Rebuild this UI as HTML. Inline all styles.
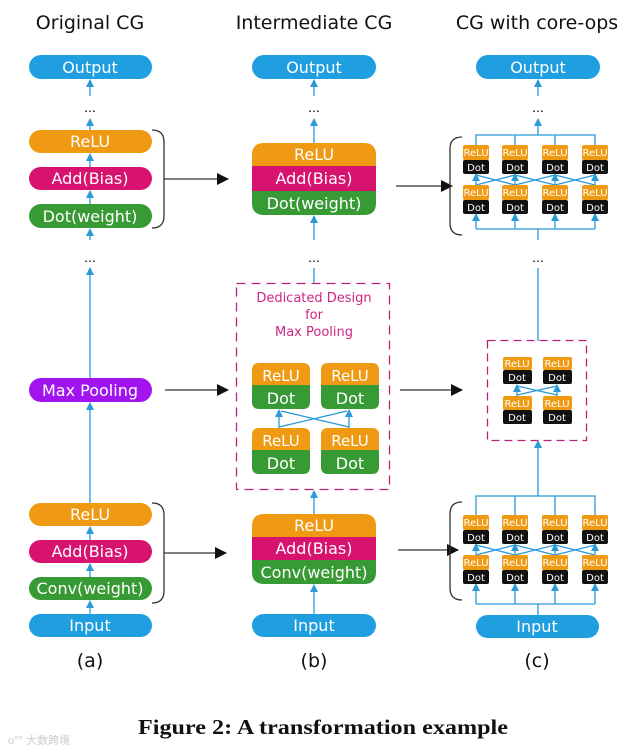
<!DOCTYPE html>
<html><head><meta charset="utf-8"><style>
html,body{margin:0;padding:0;background:#fff}
svg{display:block}
.t{font-family:"DejaVu Sans","Liberation Sans",sans-serif;fill:#fff;text-anchor:middle}
.h{font-family:"DejaVu Sans","Liberation Sans",sans-serif;fill:#111;text-anchor:middle;font-size:19px}
.s{font-family:"DejaVu Sans","Liberation Sans",sans-serif;fill:#fff;text-anchor:middle;font-size:10px}
.ln{stroke:#2a9ad8;stroke-width:1.3;fill:none}
</style></head><body>
<svg width="639" height="752" viewBox="0 0 639 752" xmlns="http://www.w3.org/2000/svg">
<defs>
<marker id="ba" markerWidth="8" markerHeight="8" refX="7" refY="4" orient="auto" markerUnits="userSpaceOnUse"><path d="M0,0 L8,4 L0,8 Z" fill="#2a9ad8"/></marker>
<marker id="ka" markerWidth="12" markerHeight="12" refX="11" refY="6" orient="auto" markerUnits="userSpaceOnUse"><path d="M0,0 L12,6 L0,12 Z" fill="#111"/></marker>
</defs>
<text class="h" x="90" y="29">Original CG</text>
<text class="h" x="314" y="29">Intermediate CG</text>
<text class="h" x="537" y="29">CG with core-ops</text>

<g>
<line class="ln" x1="90" y1="614" x2="90" y2="601" marker-end="url(#ba)"/>
<line class="ln" x1="90" y1="577" x2="90" y2="564" marker-end="url(#ba)"/>
<line class="ln" x1="90" y1="540" x2="90" y2="527" marker-end="url(#ba)"/>
<line class="ln" x1="90" y1="503" x2="90" y2="403" marker-end="url(#ba)"/>
<line class="ln" x1="90" y1="378" x2="90" y2="268" marker-end="url(#ba)"/>
<line class="ln" x1="90" y1="240" x2="90" y2="229" marker-end="url(#ba)"/>
<line class="ln" x1="90" y1="204" x2="90" y2="191" marker-end="url(#ba)"/>
<line class="ln" x1="90" y1="167" x2="90" y2="154" marker-end="url(#ba)"/>
<line class="ln" x1="90" y1="130" x2="90" y2="119" marker-end="url(#ba)"/>
<line class="ln" x1="90" y1="96" x2="90" y2="80" marker-end="url(#ba)"/>
<text x="90" y="112" text-anchor="middle" font-size="14" font-family="Liberation Sans">...</text>
<text x="90" y="262" text-anchor="middle" font-size="14" font-family="Liberation Sans">...</text>
<rect x="29" y="55" width="123" height="24" rx="12" fill="#1f9fe0"/><text class="t" x="90" y="73" font-size="16">Output</text>
<rect x="29" y="130" width="123" height="23" rx="11.5" fill="#ef9a12"/><text class="t" x="90" y="147" font-size="16">ReLU</text>
<rect x="29" y="167" width="123" height="23" rx="11.5" fill="#d8136f"/><text class="t" x="90" y="184" font-size="16">Add(Bias)</text>
<rect x="29" y="204" width="123" height="24" rx="12" fill="#389a35"/><text class="t" x="90" y="222" font-size="16">Dot(weight)</text>
<rect x="29" y="378" width="123" height="24" rx="12" fill="#a114f0"/><text class="t" x="90" y="396" font-size="16">Max Pooling</text>
<rect x="29" y="503" width="123" height="23" rx="11.5" fill="#ef9a12"/><text class="t" x="90" y="520" font-size="16">ReLU</text>
<rect x="29" y="540" width="123" height="23" rx="11.5" fill="#d8136f"/><text class="t" x="90" y="557" font-size="16">Add(Bias)</text>
<rect x="29" y="577" width="123" height="23" rx="11.5" fill="#389a35"/><text class="t" x="90" y="594" font-size="16">Conv(weight)</text>
<rect x="29" y="614" width="123" height="23" rx="11.5" fill="#1f9fe0"/><text class="t" x="90" y="631" font-size="16">Input</text>
<path d="M152,130 Q164,130 164,142 L164,216 Q164,228 152,228" stroke="#333" stroke-width="1.3" fill="none"/>
<path d="M152,503 Q164,503 164,515 L164,591 Q164,603 152,603" stroke="#333" stroke-width="1.3" fill="none"/>
<text class="h" x="90" y="667" font-size="18">(a)</text>
</g>

<g stroke="#333" stroke-width="1.3">
<line x1="164" y1="179" x2="228" y2="179" marker-end="url(#ka)"/>
<line x1="165" y1="390" x2="228" y2="390" marker-end="url(#ka)"/>
<line x1="164" y1="553" x2="226" y2="553" marker-end="url(#ka)"/>
<line x1="396" y1="186" x2="452" y2="186" marker-end="url(#ka)"/>
<line x1="400" y1="390" x2="462" y2="390" marker-end="url(#ka)"/>
<line x1="398" y1="550" x2="458" y2="550" marker-end="url(#ka)"/>
</g>

<g>
<line class="ln" x1="314" y1="614" x2="314" y2="585" marker-end="url(#ba)"/>
<line class="ln" x1="314" y1="514" x2="314" y2="491" marker-end="url(#ba)"/>
<line class="ln" x1="314" y1="283" x2="314" y2="268"/>
<line class="ln" x1="314" y1="240" x2="314" y2="216" marker-end="url(#ba)"/>
<line class="ln" x1="314" y1="143" x2="314" y2="119" marker-end="url(#ba)"/>
<line class="ln" x1="314" y1="96" x2="314" y2="80" marker-end="url(#ba)"/>
<text x="314" y="112" text-anchor="middle" font-size="14" font-family="Liberation Sans">...</text>
<text x="314" y="262" text-anchor="middle" font-size="14" font-family="Liberation Sans">...</text>
<rect x="252" y="55" width="124" height="24" rx="12" fill="#1f9fe0"/><text class="t" x="314" y="73" font-size="16">Output</text>
<path d="M252,155 Q252,143 264,143 L364,143 Q376,143 376,155 L376,166 L252,166 Z" fill="#ef9a12"/>
<rect x="252" y="166" width="124" height="25" fill="#d8136f"/>
<path d="M252,191 L376,191 L376,203 Q376,215 364,215 L264,215 Q252,215 252,203 Z" fill="#389a35"/>
<text class="t" x="314" y="160" font-size="16">ReLU</text>
<text class="t" x="314" y="184" font-size="16">Add(Bias)</text>
<text class="t" x="314" y="209" font-size="16">Dot(weight)</text>
<path d="M252,526 Q252,514 264,514 L364,514 Q376,514 376,526 L376,537 L252,537 Z" fill="#ef9a12"/>
<rect x="252" y="537" width="124" height="23" fill="#d8136f"/>
<path d="M252,560 L376,560 L376,572 Q376,584 364,584 L264,584 Q252,584 252,572 Z" fill="#389a35"/>
<text class="t" x="314" y="531" font-size="16">ReLU</text>
<text class="t" x="314" y="554" font-size="16">Add(Bias)</text>
<text class="t" x="314" y="578" font-size="16">Conv(weight)</text>
<rect x="252" y="614" width="124" height="23" rx="11.5" fill="#1f9fe0"/><text class="t" x="314" y="631" font-size="16">Input</text>
<rect x="236.5" y="283.5" width="153" height="206" fill="none" stroke="#c0207a" stroke-width="1.3" stroke-dasharray="9,6"/>
<g font-family="DejaVu Sans,Liberation Sans,sans-serif" font-size="13" fill="#d02585" text-anchor="middle">
<text x="314" y="302">Dedicated Design</text><text x="314" y="319">for</text><text x="314" y="336">Max Pooling</text></g>
<g>
<path d="M252,370 Q252,363 259,363 L303,363 Q310,363 310,370 L310,385 L252,385 Z" fill="#ef9a12"/>
<path d="M252,385 L310,385 L310,402 Q310,409 303,409 L259,409 Q252,409 252,402 Z" fill="#389a35"/>
<path d="M321,370 Q321,363 328,363 L372,363 Q379,363 379,370 L379,385 L321,385 Z" fill="#ef9a12"/>
<path d="M321,385 L379,385 L379,402 Q379,409 372,409 L328,409 Q321,409 321,402 Z" fill="#389a35"/>
<path d="M252,435 Q252,428 259,428 L303,428 Q310,428 310,435 L310,450 L252,450 Z" fill="#ef9a12"/>
<path d="M252,450 L310,450 L310,467 Q310,474 303,474 L259,474 Q252,474 252,467 Z" fill="#389a35"/>
<path d="M321,435 Q321,428 328,428 L372,428 Q379,428 379,435 L379,450 L321,450 Z" fill="#ef9a12"/>
<path d="M321,450 L379,450 L379,467 Q379,474 372,474 L328,474 Q321,474 321,467 Z" fill="#389a35"/>
<text class="t" x="281" y="381" font-size="15">ReLU</text><text class="t" x="281" y="404" font-size="16">Dot</text>
<text class="t" x="350" y="381" font-size="15">ReLU</text><text class="t" x="350" y="404" font-size="16">Dot</text>
<text class="t" x="281" y="446" font-size="15">ReLU</text><text class="t" x="281" y="469" font-size="16">Dot</text>
<text class="t" x="350" y="446" font-size="15">ReLU</text><text class="t" x="350" y="469" font-size="16">Dot</text>
<line class="ln" x1="279" y1="428" x2="279" y2="410" marker-end="url(#ba)"/>
<line class="ln" x1="349" y1="428" x2="349" y2="410" marker-end="url(#ba)"/>
<line class="ln" x1="279" y1="427" x2="347" y2="411"/>
<line class="ln" x1="349" y1="427" x2="281" y2="411"/>
</g>
<text class="h" x="314" y="667" font-size="18">(b)</text>
</g>

<g>
<rect x="476" y="55" width="124" height="24" rx="12" fill="#1f9fe0"/><text class="t" x="538" y="73" font-size="16">Output</text>
<line class="ln" x1="538" y1="96" x2="538" y2="80" marker-end="url(#ba)"/>
<text x="538" y="112" text-anchor="middle" font-size="14" font-family="Liberation Sans">...</text>
<text x="538" y="262" text-anchor="middle" font-size="14" font-family="Liberation Sans">...</text>
<line class="ln" x1="538" y1="135" x2="538" y2="119" marker-end="url(#ba)"/>
<path class="ln" d="M476,145 V135 H595 V145 M515,135 V145 M555,135 V145"/>
<path class="ln" d="M476,229 H595 M538,229 V240"/>
<line class="ln" x1="476" y1="229" x2="476" y2="214" marker-end="url(#ba)"/>
<line class="ln" x1="515" y1="229" x2="515" y2="214" marker-end="url(#ba)"/>
<line class="ln" x1="555" y1="229" x2="555" y2="214" marker-end="url(#ba)"/>
<line class="ln" x1="595" y1="229" x2="595" y2="214" marker-end="url(#ba)"/>
<line class="ln" x1="476" y1="185" x2="476" y2="174" marker-end="url(#ba)"/>
<line class="ln" x1="515" y1="185" x2="515" y2="174" marker-end="url(#ba)"/>
<line class="ln" x1="555" y1="185" x2="555" y2="174" marker-end="url(#ba)"/>
<line class="ln" x1="595" y1="185" x2="595" y2="174" marker-end="url(#ba)"/>
<path class="ln" d="M476,185 L515,175 M515,185 L476,175 M515,185 L555,175 M555,185 L515,175 M555,185 L595,175 M595,185 L555,175"/>
<path d="M462,137 Q450,137 450,149 L450,223 Q450,235 462,235" stroke="#333" stroke-width="1.3" fill="none"/>
<g>
<rect x="463" y="145" width="26" height="15" rx="2" fill="#ef9a12"/><rect x="463" y="160" width="26" height="14" rx="2" fill="#111"/>
<rect x="502" y="145" width="26" height="15" rx="2" fill="#ef9a12"/><rect x="502" y="160" width="26" height="14" rx="2" fill="#111"/>
<rect x="542" y="145" width="26" height="15" rx="2" fill="#ef9a12"/><rect x="542" y="160" width="26" height="14" rx="2" fill="#111"/>
<rect x="582" y="145" width="26" height="15" rx="2" fill="#ef9a12"/><rect x="582" y="160" width="26" height="14" rx="2" fill="#111"/>
<rect x="463" y="185" width="26" height="15" rx="2" fill="#ef9a12"/><rect x="463" y="200" width="26" height="14" rx="2" fill="#111"/>
<rect x="502" y="185" width="26" height="15" rx="2" fill="#ef9a12"/><rect x="502" y="200" width="26" height="14" rx="2" fill="#111"/>
<rect x="542" y="185" width="26" height="15" rx="2" fill="#ef9a12"/><rect x="542" y="200" width="26" height="14" rx="2" fill="#111"/>
<rect x="582" y="185" width="26" height="15" rx="2" fill="#ef9a12"/><rect x="582" y="200" width="26" height="14" rx="2" fill="#111"/>
<text class="s" x="476" y="156">ReLU</text><text class="s" x="476" y="171" font-size="11">Dot</text>
<text class="s" x="515" y="156">ReLU</text><text class="s" x="515" y="171" font-size="11">Dot</text>
<text class="s" x="555" y="156">ReLU</text><text class="s" x="555" y="171" font-size="11">Dot</text>
<text class="s" x="595" y="156">ReLU</text><text class="s" x="595" y="171" font-size="11">Dot</text>
<text class="s" x="476" y="196">ReLU</text><text class="s" x="476" y="211" font-size="11">Dot</text>
<text class="s" x="515" y="196">ReLU</text><text class="s" x="515" y="211" font-size="11">Dot</text>
<text class="s" x="555" y="196">ReLU</text><text class="s" x="555" y="211" font-size="11">Dot</text>
<text class="s" x="595" y="196">ReLU</text><text class="s" x="595" y="211" font-size="11">Dot</text>
</g>
<line class="ln" x1="538" y1="341" x2="538" y2="268"/>
<line class="ln" x1="538" y1="496" x2="538" y2="441" marker-end="url(#ba)"/>
<rect x="487.5" y="340.5" width="99" height="100" fill="none" stroke="#c0207a" stroke-width="1.3" stroke-dasharray="8,5"/>
<rect x="503" y="357" width="29" height="13" rx="2" fill="#ef9a12"/><rect x="503" y="370" width="29" height="14" rx="2" fill="#111"/>
<rect x="543" y="357" width="29" height="13" rx="2" fill="#ef9a12"/><rect x="543" y="370" width="29" height="14" rx="2" fill="#111"/>
<rect x="503" y="396" width="29" height="14" rx="2" fill="#ef9a12"/><rect x="503" y="410" width="29" height="14" rx="2" fill="#111"/>
<rect x="543" y="396" width="29" height="14" rx="2" fill="#ef9a12"/><rect x="543" y="410" width="29" height="14" rx="2" fill="#111"/>
<text class="s" x="517" y="367">ReLU</text><text class="s" x="517" y="381" font-size="11">Dot</text>
<text class="s" x="557" y="367">ReLU</text><text class="s" x="557" y="381" font-size="11">Dot</text>
<text class="s" x="517" y="407">ReLU</text><text class="s" x="517" y="421" font-size="11">Dot</text>
<text class="s" x="557" y="407">ReLU</text><text class="s" x="557" y="421" font-size="11">Dot</text>
<line class="ln" x1="517" y1="396" x2="517" y2="385" marker-end="url(#ba)"/>
<line class="ln" x1="557" y1="396" x2="557" y2="385" marker-end="url(#ba)"/>
<path class="ln" d="M517,395 L557,386 M557,395 L517,386"/>
<path class="ln" d="M476,515 V496 H595 V515 M515,496 V515 M555,496 V515"/>
<path class="ln" d="M476,604 H595 M538,604 V615"/>
<line class="ln" x1="476" y1="604" x2="476" y2="584" marker-end="url(#ba)"/>
<line class="ln" x1="515" y1="604" x2="515" y2="584" marker-end="url(#ba)"/>
<line class="ln" x1="555" y1="604" x2="555" y2="584" marker-end="url(#ba)"/>
<line class="ln" x1="595" y1="604" x2="595" y2="584" marker-end="url(#ba)"/>
<line class="ln" x1="476" y1="555" x2="476" y2="544" marker-end="url(#ba)"/>
<line class="ln" x1="515" y1="555" x2="515" y2="544" marker-end="url(#ba)"/>
<line class="ln" x1="555" y1="555" x2="555" y2="544" marker-end="url(#ba)"/>
<line class="ln" x1="595" y1="555" x2="595" y2="544" marker-end="url(#ba)"/>
<path class="ln" d="M476,555 L515,545 M515,555 L476,545 M515,555 L555,545 M555,555 L515,545 M555,555 L595,545 M595,555 L555,545"/>
<path d="M462,502 Q450,502 450,514 L450,588 Q450,600 462,600" stroke="#333" stroke-width="1.3" fill="none"/>
<g>
<rect x="463" y="515" width="26" height="15" rx="2" fill="#ef9a12"/><rect x="463" y="530" width="26" height="14" rx="2" fill="#111"/>
<rect x="502" y="515" width="26" height="15" rx="2" fill="#ef9a12"/><rect x="502" y="530" width="26" height="14" rx="2" fill="#111"/>
<rect x="542" y="515" width="26" height="15" rx="2" fill="#ef9a12"/><rect x="542" y="530" width="26" height="14" rx="2" fill="#111"/>
<rect x="582" y="515" width="26" height="15" rx="2" fill="#ef9a12"/><rect x="582" y="530" width="26" height="14" rx="2" fill="#111"/>
<rect x="463" y="555" width="26" height="15" rx="2" fill="#ef9a12"/><rect x="463" y="570" width="26" height="14" rx="2" fill="#111"/>
<rect x="502" y="555" width="26" height="15" rx="2" fill="#ef9a12"/><rect x="502" y="570" width="26" height="14" rx="2" fill="#111"/>
<rect x="542" y="555" width="26" height="15" rx="2" fill="#ef9a12"/><rect x="542" y="570" width="26" height="14" rx="2" fill="#111"/>
<rect x="582" y="555" width="26" height="15" rx="2" fill="#ef9a12"/><rect x="582" y="570" width="26" height="14" rx="2" fill="#111"/>
<text class="s" x="476" y="526">ReLU</text><text class="s" x="476" y="541" font-size="11">Dot</text>
<text class="s" x="515" y="526">ReLU</text><text class="s" x="515" y="541" font-size="11">Dot</text>
<text class="s" x="555" y="526">ReLU</text><text class="s" x="555" y="541" font-size="11">Dot</text>
<text class="s" x="595" y="526">ReLU</text><text class="s" x="595" y="541" font-size="11">Dot</text>
<text class="s" x="476" y="566">ReLU</text><text class="s" x="476" y="581" font-size="11">Dot</text>
<text class="s" x="515" y="566">ReLU</text><text class="s" x="515" y="581" font-size="11">Dot</text>
<text class="s" x="555" y="566">ReLU</text><text class="s" x="555" y="581" font-size="11">Dot</text>
<text class="s" x="595" y="566">ReLU</text><text class="s" x="595" y="581" font-size="11">Dot</text>
</g>
<rect x="476" y="615" width="123" height="23" rx="11.5" fill="#1f9fe0"/><text class="t" x="537" y="632" font-size="16">Input</text>
<text class="h" x="537" y="667" font-size="18">(c)</text>
</g>

<text x="323" y="734" text-anchor="middle" font-family="Liberation Serif,serif" font-weight="bold" font-size="21" fill="#111" textLength="370" lengthAdjust="spacingAndGlyphs">Figure 2: A transformation example</text>
<text x="8" y="744" font-family="Liberation Sans,Noto Sans CJK SC,sans-serif" font-size="11" fill="#ccc">ʊ°° 大数跨境</text>
</svg>
</body></html>
